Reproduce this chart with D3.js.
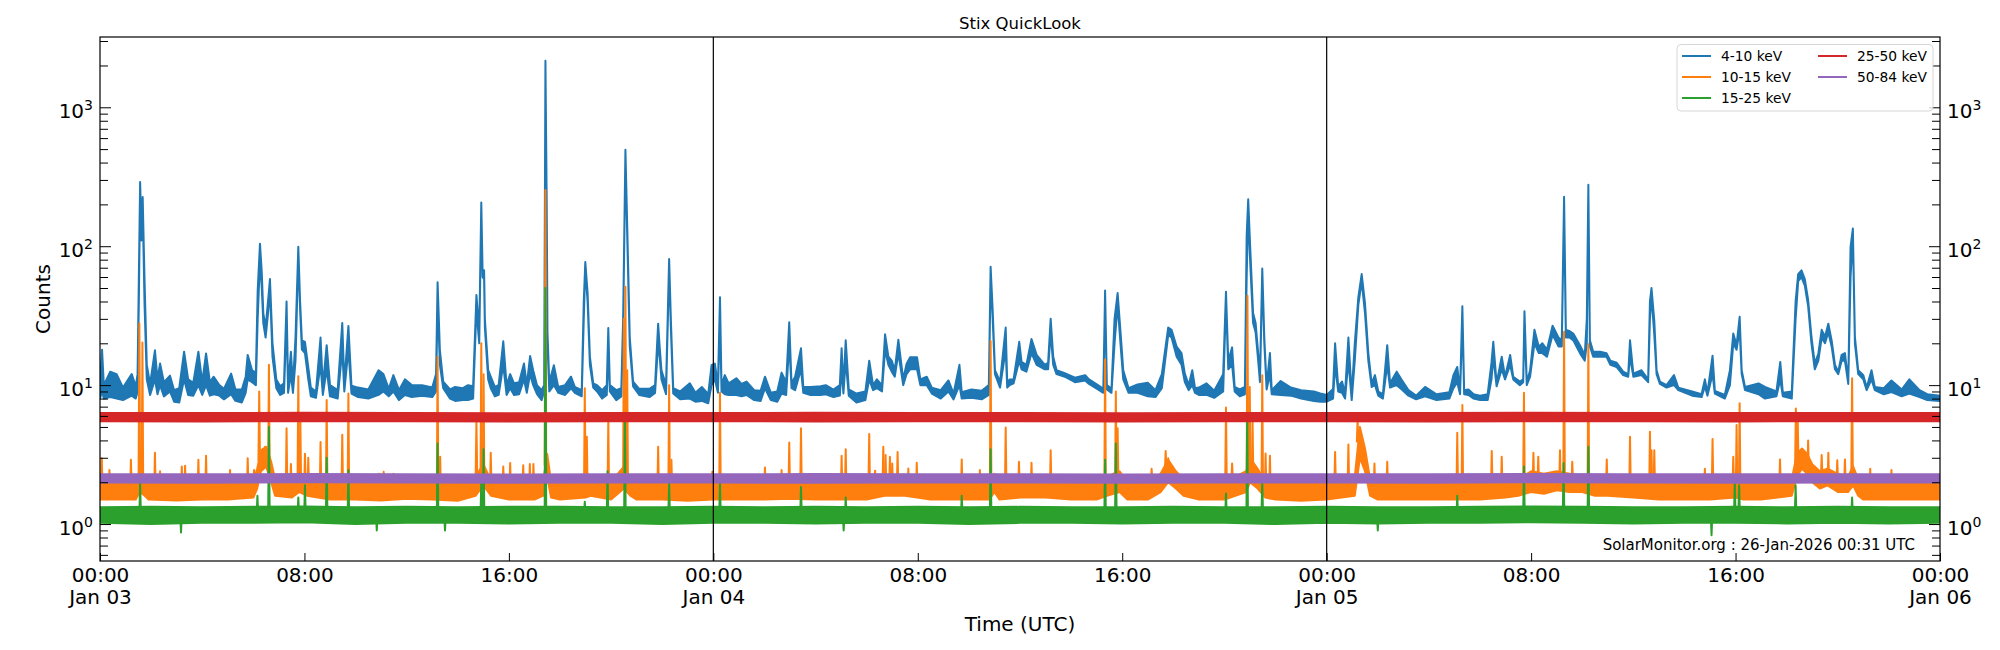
<!DOCTYPE html>
<html>
<head>
<meta charset="utf-8">
<title>Stix QuickLook</title>
<script src="https://d3js.org/d3.v7.min.js"></script>
<style>
  body { margin: 0; background: #fff; }
</style>
</head>
<body>
<div id="chart"></div>
<script>
// all times are hours after 2026-01-03 00:00 UTC
// bands: [hour, low, high] envelope of the noisy light curve
var band410 = [
  [0.00, 8.0, 10.5], [0.08, 9, 18], [0.15, 8.0, 10.0], [0.40, 8.2, 12.5], [0.65, 8.0, 12.0], [0.9, 7.8, 9.6],
  [1.24, 8.4, 12], [1.40, 8.0, 9.8], [1.47, 9, 12], [1.52, 40, 60], [1.57, 240, 290], [1.62, 110, 130],
  [1.67, 200, 226], [1.74, 40, 60], [1.83, 11, 14], [1.96, 8.5, 10.2], [2.15, 11, 17.8], [2.25, 8.6, 11],
  [2.35, 10, 14.3], [2.5, 8.3, 10.5], [2.74, 9, 11.7], [2.9, 7.6, 9.2], [3.1, 7.5, 9.5], [3.29, 11, 17.4],
  [3.45, 8.5, 11], [3.65, 8.4, 10.4], [3.85, 10, 17.4], [4.0, 8.5, 10.5], [4.15, 10, 16.9], [4.3, 8.4, 10.5],
  [4.45, 8.6, 11.5], [4.67, 8.4, 10.0], [4.85, 7.9, 9.4], [5.13, 8.6, 12.1], [5.3, 7.7, 9.3], [5.55, 7.5, 9.3],
  [5.7, 8.8, 11.5], [5.78, 11, 16.5], [5.95, 10.5, 12.8], [6.1, 10, 12.3], [6.17, 30, 48], [6.26, 80, 104],
  [6.33, 50, 65], [6.39, 28, 33], [6.48, 22, 26], [6.59, 35, 43], [6.65, 50, 58], [6.75, 16, 20],
  [6.9, 9.5, 11], [7.05, 8.5, 9.8], [7.2, 8.8, 10.3], [7.30, 30, 40], [7.36, 8.8, 10], [7.47, 12, 17.4],
  [7.55, 8.8, 10], [7.65, 15, 22], [7.76, 85, 99], [7.83, 35, 40], [7.90, 18, 21], [8.02, 17, 20.5],
  [8.15, 11, 13.5], [8.25, 8.3, 9.6], [8.45, 8.1, 9.0], [8.63, 14, 22], [8.72, 8.5, 9.8], [8.87, 13, 19.4],
  [9.0, 8.3, 10], [9.3, 8.0, 9.2], [9.48, 18, 28], [9.56, 9, 10.3], [9.72, 18, 26.6], [9.84, 8.7, 9.9],
  [10.1, 8.2, 9.6], [10.5, 8.0, 9.3], [10.9, 8.5, 12.8], [11.09, 9, 12], [11.3, 8.3, 9.4], [11.48, 9, 11.8],
  [11.7, 7.8, 9.2], [11.93, 8.5, 11], [12.2, 8.2, 10], [12.6, 8.4, 10], [13.0, 8.2, 9.6], [13.15, 9, 12],
  [13.21, 40, 55], [13.3, 14, 17.8], [13.43, 9.5, 10.6], [13.7, 8.0, 9.3], [13.9, 7.7, 9.7], [14.2, 7.8, 9.5],
  [14.4, 7.8, 10], [14.6, 8, 9.8], [14.73, 35, 44.5], [14.84, 20, 24], [14.92, 180, 206], [14.97, 60, 67],
  [15.03, 58, 67], [15.06, 26, 30], [15.19, 11, 12.8], [15.29, 9.5, 11.5], [15.45, 8.3, 9.7], [15.6, 8.5, 10],
  [15.78, 14, 20.7], [15.91, 8.5, 10], [16.05, 9.5, 12], [16.2, 8.5, 10.3], [16.4, 8.6, 10.5], [16.59, 11, 14.3],
  [16.7, 8.8, 10], [16.83, 12, 16.2], [16.95, 10, 12.8], [17.1, 8.6, 10], [17.28, 7.8, 9.2], [17.38, 9, 10],
  [17.43, 1900, 2160], [17.48, 180, 203], [17.51, 20, 24], [17.58, 9, 10.5], [17.76, 10, 13.9], [17.93, 8.8, 9.7],
  [18.2, 8.5, 10], [18.43, 9.5, 11.5], [18.58, 8.8, 9.7], [18.85, 8.3, 9.2], [18.93, 30, 40], [18.99, 70, 77],
  [19.08, 40, 46], [19.17, 14, 16], [19.3, 9.6, 10.3], [19.45, 9, 10], [19.65, 8.0, 9.2], [19.83, 8.5, 10],
  [19.89, 18, 25.8], [19.95, 9.0, 10], [20.2, 7.8, 9.2], [20.4, 8.3, 9.5], [20.47, 25, 30], [20.56, 440, 495],
  [20.64, 100, 117], [20.73, 19, 22], [20.86, 9.8, 10.6], [21.1, 8.5, 9.4], [21.5, 8.2, 9.4], [21.72, 8.8, 10],
  [21.84, 20, 27.7], [21.9, 16, 18.9], [21.97, 11, 12.8], [22.15, 8.6, 10], [22.27, 70, 81], [22.34, 25, 29],
  [22.43, 8.7, 9.5], [22.7, 7.9, 9], [23.08, 8.0, 10.3], [23.3, 7.6, 8.8], [23.55, 7.7, 9.7], [23.8, 7.4, 8.6],
  [23.93, 10, 13.9], [24.06, 11, 14.3], [24.18, 8.8, 10], [24.26, 30, 43], [24.32, 9.0, 10], [24.45, 8.6, 11.8],
  [24.6, 8.5, 10.3], [24.9, 8.5, 11.2], [25.1, 8.3, 10.2], [25.3, 8.5, 10.6], [25.6, 7.8, 9.2], [25.85, 7.7, 9.1],
  [26.02, 9.5, 11.5], [26.25, 7.8, 8.8], [26.5, 7.6, 9], [26.67, 8.7, 12.3], [26.85, 8.5, 10.5], [26.97, 20, 28.3],
  [27.06, 9.5, 10.3], [27.2, 9.2, 11.5], [27.43, 13, 18.4], [27.52, 8.8, 9.7], [27.8, 8.5, 9.7], [28.2, 8.5, 9.8],
  [28.4, 8.6, 10], [28.7, 8.2, 9.3], [28.95, 8.4, 10], [29.02, 13, 18.4], [29.09, 8.7, 9.6], [29.18, 15, 21],
  [29.3, 8.4, 9.3], [29.6, 7.5, 8.7], [29.95, 7.8, 9.0], [30.1, 11, 15], [30.25, 9.2, 10], [30.4, 9.5, 11],
  [30.6, 9, 10], [30.72, 18, 23.2], [30.85, 14, 16], [30.98, 12.5, 15], [31.1, 11.5, 12.8], [31.24, 17, 21.2],
  [31.43, 10, 11], [31.56, 12, 14.2], [31.7, 13, 15.9], [31.97, 13, 15.9], [32.1, 10, 11], [32.35, 10, 11.5],
  [32.55, 8.7, 9.6], [32.9, 8.0, 9.2], [33.2, 9, 10.8], [33.4, 7.9, 8.7], [33.63, 10, 14], [33.72, 8.0, 8.9],
  [34.1, 8.1, 9.3], [34.5, 7.9, 9.1], [34.78, 8.5, 10], [34.85, 60, 71], [34.93, 30, 35], [35.02, 12, 12.8],
  [35.22, 9.6, 10.6], [35.44, 18, 26], [35.5, 9.6, 10.5], [35.6, 10, 11], [35.75, 10.3, 11], [35.97, 15, 20.5],
  [36.06, 13, 14.7], [36.25, 12.5, 14], [36.45, 17, 21.5], [36.65, 14, 16.5], [36.97, 13, 14], [37.1, 13, 14.5],
  [37.2, 24, 30], [37.3, 14, 16], [37.43, 12, 12.8], [37.75, 11.5, 12.2], [38.15, 10.5, 11.3], [38.55, 10.8, 11.8],
  [38.7, 10.2, 11], [39.05, 9.3, 10], [39.26, 8.8, 9.4], [39.33, 40, 48], [39.4, 9.3, 10], [39.58, 8.8, 9.4],
  [39.7, 20, 30], [39.82, 38, 46], [39.95, 18, 22], [40.04, 11, 12.8], [40.25, 8.8, 9.5], [40.6, 8.8, 10.1],
  [41.0, 8.3, 10.4], [41.3, 8.2, 9.2], [41.55, 9.5, 12], [41.8, 23, 26], [41.93, 22, 25], [42.13, 16, 18.9],
  [42.32, 14, 17], [42.45, 10.5, 12.1], [42.6, 9.2, 10], [42.74, 10, 12.8], [42.85, 8.8, 9.5], [43.0, 8.5, 9.6],
  [43.3, 8.5, 10.3], [43.6, 8.1, 9.1], [43.95, 9, 12], [44.06, 40, 47], [44.15, 13, 15], [44.3, 14, 18.7],
  [44.4, 9, 9.7], [44.6, 8.3, 9.3], [44.8, 8.6, 9.7], [44.87, 60, 120], [44.93, 190, 218], [44.99, 90, 117],
  [45.12, 28, 33], [45.22, 24, 28], [45.32, 15, 17], [45.39, 10.5, 11.5], [45.48, 60, 69], [45.56, 20, 22],
  [45.65, 9.3, 9.9], [45.78, 12, 17], [45.85, 8.6, 9.2], [46.2, 8.5, 10.7], [46.6, 8.4, 9.6], [47.0, 8.0, 9.2],
  [47.5, 7.7, 9.0], [47.75, 7.6, 8.7], [48.0, 7.6, 8.5], [48.25, 8.0, 9.4], [48.33, 14, 20], [48.45, 9, 9.8],
  [48.6, 8.8, 10.6], [48.72, 8.0, 8.8], [48.85, 15, 22], [48.98, 7.8, 8.5], [49.1, 15, 20], [49.24, 38, 43],
  [49.37, 56, 63], [49.5, 33, 38.7], [49.63, 15, 17], [49.76, 9.7, 10.3], [49.89, 10, 11.8], [50.02, 8.4, 9],
  [50.2, 8.0, 8.6], [50.37, 14, 19.4], [50.48, 9.6, 10.3], [50.74, 10, 12.5], [50.94, 9.3, 10.9], [51.2, 8.4, 9.2],
  [51.5, 7.9, 8.4], [51.85, 8.3, 9.7], [52.3, 7.8, 8.6], [52.8, 8.0, 8.9], [52.96, 9.5, 11.8], [53.11, 10.5, 13.5],
  [53.22, 8.6, 9.2], [53.31, 30, 37], [53.38, 8.6, 9.2], [53.55, 8.5, 9.3], [53.75, 8.0, 8.6], [54.0, 7.8, 8.4],
  [54.3, 7.8, 8.6], [54.45, 11, 14.5], [54.52, 16, 20.5], [54.65, 9.8, 10.3], [54.85, 13, 16], [54.98, 11, 11.5],
  [55.18, 14, 16.5], [55.3, 11, 11.5], [55.56, 10, 10.6], [55.69, 10.5, 11], [55.74, 28, 34], [55.83, 10, 10.5],
  [55.96, 11.5, 12.8], [56.13, 20, 25], [56.3, 17, 18.9], [56.44, 17, 20], [56.62, 16, 18], [56.84, 23, 26.8],
  [57.07, 19, 22], [57.2, 19, 21], [57.29, 200, 227], [57.36, 22, 25], [57.5, 22, 24.5], [57.65, 21, 23.5],
  [57.91, 17, 19.4], [58.1, 15, 16.5], [58.18, 20, 30], [58.24, 250, 277], [58.3, 19, 21], [58.43, 16, 17.4],
  [58.7, 16, 17.4], [58.95, 16, 17], [59.1, 14, 15], [59.35, 13.5, 14.5], [59.6, 11.8, 12.5], [59.8, 11.5, 12],
  [59.87, 16, 21], [60.0, 11.5, 12.1], [60.32, 11.8, 12.8], [60.58, 10.5, 11], [60.65, 30, 40], [60.71, 44, 50],
  [60.82, 23, 29], [60.91, 12, 12.8], [61.04, 10.2, 10.6], [61.3, 9.6, 10], [61.59, 10, 11.8], [61.76, 9.2, 9.6],
  [62.3, 8.4, 9.0], [62.67, 8.2, 8.6], [62.8, 9.8, 11], [62.9, 8.4, 8.8], [63.1, 12, 16.3], [63.19, 8.7, 9.1],
  [63.58, 8.0, 8.5], [63.78, 10, 12.8], [63.91, 20, 23.5], [64.04, 18, 19.4], [64.16, 25, 31], [64.24, 12, 12.8],
  [64.37, 9.2, 9.7], [64.9, 8.6, 10.3], [65.15, 8.0, 9.7], [65.6, 8.3, 9.0], [65.75, 11, 14.7], [65.85, 8.3, 8.8],
  [66.2, 8.0, 9.0], [66.35, 30, 40], [66.45, 56, 63], [66.58, 60, 67], [66.71, 52, 58], [66.84, 37, 41],
  [66.97, 20, 22.3], [67.1, 13, 14.3], [67.24, 15, 16.9], [67.37, 22, 25], [67.5, 20, 22.3], [67.63, 24, 27.7],
  [67.76, 19, 21], [67.89, 13, 14], [68.02, 12, 12.5], [68.15, 15, 16.5], [68.28, 15, 17], [68.41, 10.2, 10.6],
  [68.5, 60, 99], [68.59, 120, 134], [68.67, 20, 22.3], [68.8, 12, 12.8], [69.0, 11, 11.8], [69.13, 9.2, 9.6],
  [69.32, 11, 12.8], [69.45, 9.2, 9.7], [69.8, 8.6, 9.5], [70.1, 8.9, 10.8], [70.5, 8.3, 9.3], [70.8, 8.7, 11],
  [71.2, 8.2, 9.2], [71.5, 7.8, 8.6], [72.0, 7.7, 8.4]
];

var band1015 = [
  [0, 1.5, 2.0], [1.4, 1.5, 2.0], [1.55, 1.7, 2.4], [1.75, 1.6, 2.2], [1.9, 1.5, 2.0], [3, 1.48, 2.0],
  [4, 1.5, 2.0], [5, 1.5, 2.0], [6.0, 1.55, 2.05], [6.15, 1.8, 2.5], [6.3, 2.4, 3.4], [6.5, 2.6, 3.6],
  [6.7, 2.0, 2.8], [6.85, 1.6, 2.1], [7.5, 1.55, 2.0], [7.8, 1.7, 2.4], [8.1, 1.6, 2.1], [9, 1.5, 2.0],
  [10, 1.5, 2.0], [11, 1.48, 2.0], [12, 1.52, 2.0], [13, 1.5, 2.0], [14, 1.47, 2.0], [14.7, 1.6, 2.2],
  [15.0, 1.9, 2.7], [15.3, 1.6, 2.05], [16, 1.5, 2.0], [17, 1.5, 2.0], [17.35, 1.6, 2.1], [17.5, 2.2, 3.2],
  [17.65, 1.55, 2.0], [18, 1.5, 2.0], [19, 1.55, 2.1], [19.2, 1.6, 2.05], [20, 1.5, 2.0], [20.5, 1.8, 2.6],
  [20.75, 1.6, 2.1], [21, 1.5, 2.0], [22, 1.5, 2.0], [23, 1.47, 2.0], [24, 1.5, 2.0], [25, 1.5, 2.0],
  [26, 1.5, 2.0], [27, 1.52, 2.0], [28, 1.5, 2.0], [29, 1.5, 2.0], [30, 1.5, 2.0], [30.7, 1.6, 2.15],
  [31.5, 1.6, 2.1], [32.5, 1.5, 2.0], [33.5, 1.5, 2.0], [34.8, 1.5, 2.0], [35, 1.7, 2.3], [35.2, 1.5, 2.0],
  [36, 1.55, 2.05], [37, 1.55, 2.05], [38, 1.5, 2.0], [39, 1.5, 2.0], [39.4, 1.6, 2.2], [39.9, 1.7, 2.4],
  [40.2, 1.5, 2.0], [41, 1.5, 2.0], [41.5, 1.7, 2.3], [41.8, 2.0, 2.9], [42.1, 1.8, 2.4], [42.4, 1.6, 2.1],
  [43, 1.5, 2.0], [44, 1.5, 2.0], [44.85, 1.7, 2.4], [45.0, 2.0, 3.0], [45.3, 1.8, 2.5], [45.6, 1.55, 2.0],
  [46, 1.5, 2.0], [47, 1.47, 2.0], [48, 1.5, 2.0], [49.1, 1.6, 2.2], [49.3, 3.0, 5.0], [49.5, 2.4, 3.5],
  [49.7, 1.6, 2.1], [50, 1.5, 2.0], [51, 1.5, 2.0], [52, 1.5, 2.0], [53, 1.5, 2.0], [54, 1.5, 2.0],
  [55, 1.55, 2.05], [55.5, 1.6, 2.1], [56, 1.7, 2.4], [56.5, 1.65, 2.3], [57, 1.75, 2.4], [57.5, 1.7, 2.3],
  [58, 1.7, 2.2], [58.5, 1.6, 2.1], [59, 1.6, 2.1], [60, 1.55, 2.0], [61, 1.5, 2.0], [62, 1.5, 2.0],
  [63, 1.5, 2.0], [64, 1.55, 2.1], [64.3, 1.5, 2.0], [65, 1.5, 2.0], [66.2, 1.6, 2.1], [66.4, 2.2, 3.2],
  [66.6, 2.5, 3.5], [66.8, 2.3, 3.2], [67.0, 2.0, 2.7], [67.3, 1.8, 2.4], [67.6, 1.9, 2.5], [68, 1.7, 2.3],
  [68.4, 1.7, 2.2], [68.6, 1.9, 2.6], [68.8, 1.6, 2.1], [69, 1.5, 2.0], [70, 1.5, 2.0], [71, 1.5, 2.0],
  [72, 1.5, 2.0]
];

// narrow peaks on top of the band: [hour, counts]
var spikes1015 = [
  [0.07, 2.97], [0.37, 2.45], [1.21, 2.9], [1.54, 27.8], [1.66, 20.3], [2.15, 3.26], [2.35, 2.4],
  [3.2, 2.6], [3.33, 2.63], [3.85, 2.9], [4.15, 3.1], [5.09, 2.45], [5.78, 2.97], [6.03, 2.45],
  [6.23, 9], [6.46, 3.6], [6.61, 14], [7.30, 4.9], [7.47, 2.7], [7.76, 11.6], [7.84, 5.6], [8.02, 3.2],
  [8.15, 3.0], [8.63, 3.9], [8.87, 7.8], [9.48, 4.4], [9.72, 8.7], [10.9, 2.3], [11.1, 2.38], [11.48, 2.3],
  [13.21, 16], [13.31, 3.05], [14.73, 5.6], [14.92, 20], [15.01, 12], [15.29, 3.26], [15.78, 2.6],
  [16.05, 2.75], [16.56, 2.65], [16.82, 2.7], [16.96, 2.7], [17.43, 254], [18.97, 9.5], [19.05, 4.25],
  [19.89, 5.6], [20.5, 30], [20.56, 51], [20.63, 12.8], [21.84, 3.6], [22.27, 10], [22.36, 2.9],
  [23.96, 2.38], [24.26, 8.8], [26.02, 2.55], [26.67, 2.45], [26.97, 3.86], [27.43, 4.9], [29.02, 3.1],
  [29.18, 3.45], [30.1, 4.45], [30.33, 2.42], [30.65, 3.6], [30.74, 3.14], [30.91, 3.05], [31.0, 2.73],
  [31.21, 3.3], [31.63, 2.51], [31.96, 2.76], [33.72, 2.92], [34.43, 2.45], [34.85, 20.8], [35.44, 4.95],
  [35.96, 2.81], [36.45, 2.76], [37.2, 3.4], [39.33, 15.3], [39.75, 9], [39.82, 4.9], [41.15, 2.5],
  [41.7, 3.35], [41.8, 2.97], [44.06, 6.9], [44.3, 2.73], [44.9, 44], [44.99, 9.7], [45.1, 5.6],
  [45.48, 11.8], [45.61, 3.22], [45.78, 3.1], [48.33, 3.3], [48.85, 3.74], [49.21, 5.6], [49.87, 2.73],
  [50.37, 2.81], [53.11, 4.54], [53.31, 7.2], [54.46, 3.35], [54.85, 3.05], [55.72, 8.8], [56.09, 3.26],
  [56.28, 3.05], [57.13, 3.4], [57.29, 24.2], [57.61, 2.81], [58.24, 19.7], [58.96, 2.92], [59.87, 4.25],
  [60.65, 4.62], [60.71, 3.4], [60.82, 3.4], [62.8, 2.5], [63.1, 4.1], [63.91, 3.05], [64.04, 5.16],
  [64.16, 7.4], [65.74, 2.92], [66.36, 6.8], [66.43, 5.9], [66.84, 4.0], [67.37, 3.14], [67.63, 3.26],
  [67.98, 2.88], [68.28, 2.92], [68.56, 11.2], [69.27, 2.5], [70.1, 2.45]
];

var band1525 = [
  [0, 1.02, 1.32], [2, 1.0, 1.33], [4, 1.02, 1.32], [6, 1.02, 1.33], [8, 1.03, 1.34], [10, 1.0, 1.32],
  [12, 1.02, 1.33], [14, 1.02, 1.32], [16, 1.01, 1.33], [18, 1.02, 1.33], [20, 1.02, 1.32], [22, 1.0, 1.32],
  [24, 1.02, 1.33], [26, 1.02, 1.32], [28, 1.01, 1.33], [30, 1.02, 1.32], [32, 1.02, 1.33], [34, 1.0, 1.32],
  [36, 1.02, 1.33], [38, 1.02, 1.32], [40, 1.01, 1.32], [42, 1.02, 1.33], [44, 1.02, 1.32], [46, 1.0, 1.32],
  [48, 1.02, 1.33], [50, 1.01, 1.32], [52, 1.02, 1.32], [54, 1.02, 1.33], [56, 1.03, 1.34], [58, 1.02, 1.33],
  [60, 1.01, 1.32], [62, 1.02, 1.32], [64, 1.02, 1.33], [66, 1.01, 1.32], [68, 1.02, 1.33], [70, 1.01, 1.32],
  [72, 1.02, 1.32]
];

var spikes1525 = [
  [1.57, 2.0], [3.17, 0.87], [6.16, 1.6], [6.61, 5.0], [7.76, 1.55], [8.02, 1.9], [8.87, 3.0], [9.72, 2.45],
  [10.83, 0.9], [13.21, 3.8], [13.5, 0.9], [14.92, 2.07], [15.01, 3.46], [17.43, 50], [18.97, 1.45],
  [19.86, 2.4], [20.54, 5.9], [22.27, 1.96], [24.26, 2.0], [27.43, 1.85], [29.1, 0.9], [29.18, 1.55],
  [33.72, 1.6], [34.85, 3.46], [39.33, 2.9], [39.75, 3.8], [44.06, 1.66], [44.89, 5.9], [45.48, 2.07],
  [50.0, 0.9], [53.11, 1.6], [55.72, 2.6], [57.27, 2.75], [58.24, 3.6], [63.06, 0.83], [63.97, 2.0],
  [64.14, 1.9], [66.35, 1.9], [68.56, 1.55]
];

var band2550 = [
  [0, 5.5, 6.3], [4, 5.48, 6.3], [8, 5.5, 6.32], [12, 5.5, 6.3], [16, 5.48, 6.28], [20, 5.5, 6.3],
  [24, 5.5, 6.3], [28, 5.48, 6.32], [32, 5.5, 6.3], [36, 5.5, 6.3], [40, 5.48, 6.28], [44, 5.5, 6.3],
  [48, 5.5, 6.3], [52, 5.48, 6.3], [56, 5.5, 6.32], [60, 5.5, 6.3], [64, 5.48, 6.3], [68, 5.5, 6.3],
  [72, 5.5, 6.3]
];

var band5084 = [
  [0, 1.99, 2.28], [4, 1.98, 2.28], [8, 2.0, 2.29], [12, 1.99, 2.28], [16, 1.98, 2.27], [20, 1.99, 2.28],
  [24, 1.99, 2.28], [28, 1.98, 2.29], [32, 1.99, 2.28], [36, 1.99, 2.28], [40, 1.98, 2.27], [44, 1.99, 2.28],
  [48, 1.99, 2.28], [52, 1.98, 2.28], [56, 2.0, 2.29], [60, 1.99, 2.28], [64, 1.98, 2.28], [68, 1.99, 2.28],
  [72, 1.99, 2.28]
];

var seriesNames = ["4-10 keV", "10-15 keV", "15-25 keV", "25-50 keV", "50-84 keV"];
var seriesColors = ["#1f77b4", "#ff7f0e", "#2ca02c", "#d62728", "#9467bd"];
var yMajor = [1, 10, 100, 1000];
var xTickHours = [0, 8, 16, 24, 32, 40, 48, 56, 64, 72];
var dayLines = [24, 48];

var start = Date.UTC(2026, 0, 3);
function hour(h) { return new Date(start + h * 3600e3); }

var plotL = 100, plotR = 1940, plotT = 37, plotB = 561;

var x = d3.scaleUtc().domain([hour(0), hour(72)]).range([plotL, plotR]);
var y = d3.scaleLog().domain([0.542, 3206]).range([plotB, plotT]);

var svg = d3.select("#chart").append("svg")
    .attr("width", 2000)
    .attr("height", 650)
    .style("font-family", "'DejaVu Sans', sans-serif");

svg.append("rect").attr("width", 2000).attr("height", 650).attr("fill", "white");

svg.append("defs").append("clipPath").attr("id", "plotclip")
    .append("rect").attr("x", plotL).attr("y", plotT).attr("width", plotR - plotL).attr("height", plotB - plotT);

var plot = svg.append("g").attr("clip-path", "url(#plotclip)");

var area = d3.area()
    .x(function(d) { return x(hour(d[0])); })
    .y0(function(d) { return y(d[1]); })
    .y1(function(d) { return y(d[2]); });

var line = d3.line()
    .x(function(d) { return x(hour(d[0])); })
    .y(function(d) { return y(d[1]); });

function drawBand(data, color) {
    plot.append("path").datum(data)
        .attr("d", area)
        .attr("fill", color)
        .attr("stroke", color)
        .attr("stroke-width", 2)
        .attr("stroke-linejoin", "round");
}

// spikes start from the nearest band sample
function drawSpikes(spikes, band, color) {
    var bis = d3.bisector(function(d) { return d[0]; }).left;
    plot.selectAll(null).data(spikes).enter().append("path")
        .attr("d", function(s) {
            var i = Math.min(bis(band, s[0]), band.length - 1);
            var base = Math.sqrt(band[i][1] * band[i][2]);
            return line([[s[0] - 0.03, base], [s[0], s[1]], [s[0] + 0.03, base]]);
        })
        .attr("fill", color)
        .attr("stroke", color)
        .attr("stroke-width", 2)
        .attr("stroke-linejoin", "round");
}

drawBand(band410, seriesColors[0]);
drawBand(band1015, seriesColors[1]);
drawSpikes(spikes1015, band1015, seriesColors[1]);
drawBand(band1525, seriesColors[2]);
drawSpikes(spikes1525, band1525, seriesColors[2]);
drawBand(band2550, seriesColors[3]);
drawBand(band5084, seriesColors[4]);

// day boundaries
svg.selectAll(".day").data(dayLines).enter().append("line")
    .attr("x1", function(d) { return x(hour(d)); })
    .attr("x2", function(d) { return x(hour(d)); })
    .attr("y1", plotT).attr("y2", plotB)
    .attr("stroke", "black").attr("stroke-width", 1.2);

// axes
var minor = y.ticks().filter(function(v) { return yMajor.indexOf(v) < 0; });

function styleAxis(g) {
    g.select(".domain").remove();
    g.selectAll(".tick line").attr("stroke", "black").attr("stroke-width", 1);
    g.selectAll("text").attr("fill", "black").attr("font-family", "'DejaVu Sans', sans-serif");
}

function powLabel(g) {
    g.selectAll("text").each(function(d) {
        var t = d3.select(this).text(null).attr("font-size", "20px").attr("dy", "0.5em");
        t.append("tspan").text("10");
        t.append("tspan").attr("dy", -8).attr("font-size", "14px").text(Math.round(Math.log10(d)));
    });
}

svg.append("g").attr("transform", "translate(" + plotL + ",0)")
    .call(d3.axisLeft(y).tickValues(minor).tickSize(-8).tickFormat(""))
    .call(styleAxis);
svg.append("g").attr("transform", "translate(" + plotR + ",0)")
    .call(d3.axisRight(y).tickValues(minor).tickSize(-8).tickFormat(""))
    .call(styleAxis);
svg.append("g").attr("transform", "translate(" + plotL + ",0)")
    .call(d3.axisLeft(y).tickValues(yMajor).tickSize(-11).tickPadding(7))
    .call(styleAxis).call(powLabel);
svg.append("g").attr("transform", "translate(" + plotR + ",0)")
    .call(d3.axisRight(y).tickValues(yMajor).tickSize(-11).tickPadding(7))
    .call(styleAxis).call(powLabel);

var fmtTime = d3.utcFormat("%H:%M"), fmtDay = d3.utcFormat("%b %d");
var xAxisG = svg.append("g").attr("transform", "translate(0," + plotB + ")")
    .call(d3.axisBottom(x).tickValues(xTickHours.map(hour)).tickSize(-8).tickPadding(7).tickFormat(""))
    .call(styleAxis);
xAxisG.selectAll("text").each(function(d) {
    var t = d3.select(this).attr("font-size", "20px");
    t.append("tspan").attr("x", 0).text(fmtTime(d));
    if (d.getUTCHours() === 0) {
        t.append("tspan").attr("x", 0).attr("dy", 22).text(fmtDay(d));
    }
});

// frame
svg.append("rect")
    .attr("x", plotL).attr("y", plotT).attr("width", plotR - plotL).attr("height", plotB - plotT)
    .attr("fill", "none").attr("stroke", "black").attr("stroke-width", 1.2);

// texts
svg.append("text").attr("x", (plotL + plotR) / 2).attr("y", 29)
    .attr("text-anchor", "middle").attr("font-size", "16.5px").text("Stix QuickLook");
svg.append("text").attr("x", (plotL + plotR) / 2).attr("y", 631)
    .attr("text-anchor", "middle").attr("font-size", "20px").text("Time (UTC)");
svg.append("text").attr("transform", "translate(50," + (plotT + plotB) / 2 + ") rotate(-90)")
    .attr("text-anchor", "middle").attr("font-size", "20px").text("Counts");
svg.append("text").attr("x", 1915).attr("y", 550)
    .attr("text-anchor", "end").attr("font-size", "15px").text("SolarMonitor.org : 26-Jan-2026 00:31 UTC");

// legend
var legend = svg.append("g");
legend.append("rect")
    .attr("x", 1677).attr("y", 44.5).attr("width", 256).attr("height", 66.5).attr("rx", 4)
    .attr("fill", "white").attr("fill-opacity", 0.8).attr("stroke", "#d6d6d6");
var items = legend.selectAll(".item").data(seriesNames).enter().append("g")
    .attr("transform", function(d, i) {
        var col = i < 3 ? 0 : 1, row = i < 3 ? i : i - 3;
        return "translate(" + (col === 0 ? 1682 : 1818) + "," + (56 + row * 21) + ")";
    });
items.append("line").attr("x1", 0).attr("x2", 29).attr("y1", 0).attr("y2", 0)
    .attr("stroke", function(d, i) { return seriesColors[i]; }).attr("stroke-width", 2);
items.append("text").attr("x", 39).attr("dy", "0.36em").attr("font-size", "13.8px").text(function(d) { return d; });
</script>
</body>
</html>
